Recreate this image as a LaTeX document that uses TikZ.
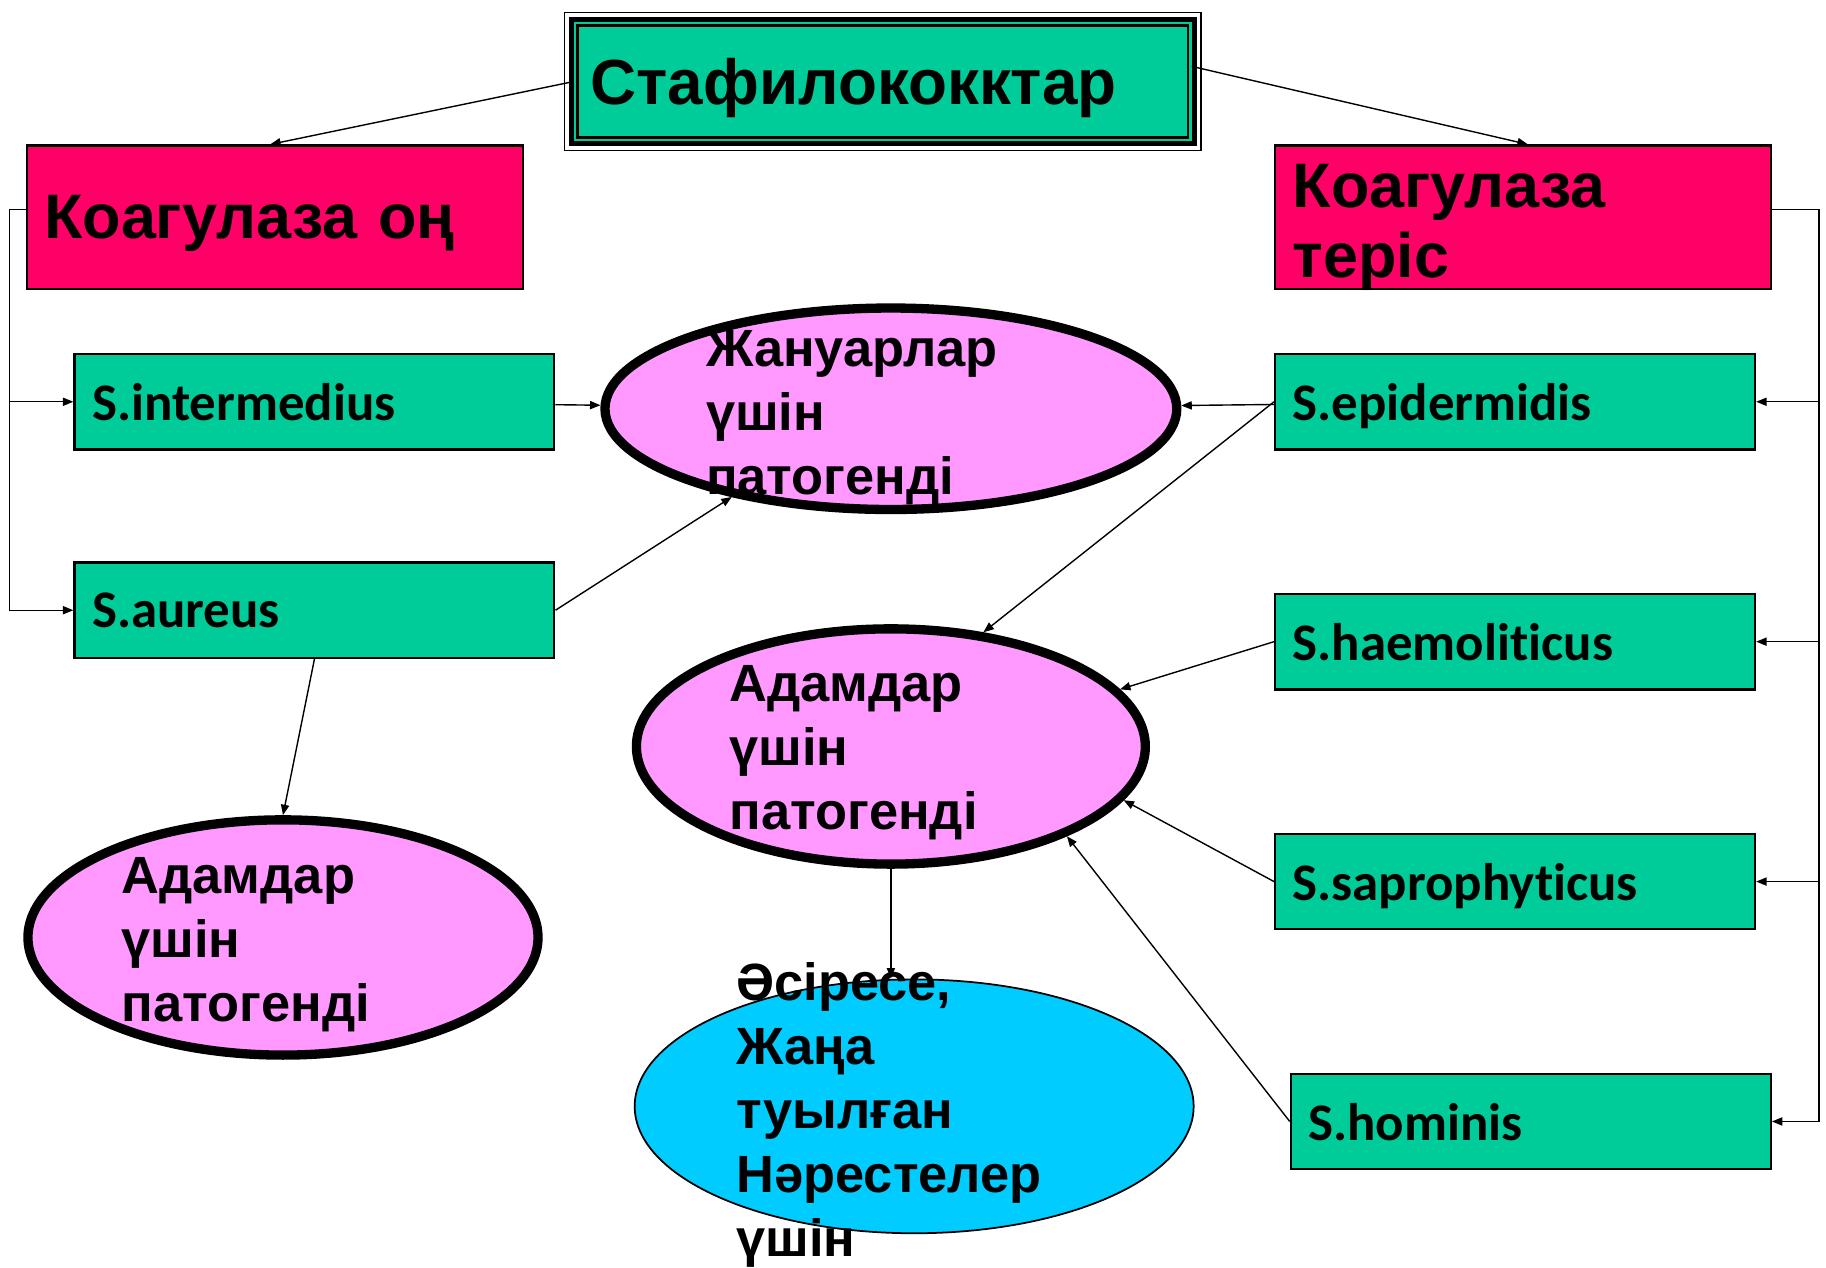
\documentclass[tikz,border=0pt]{standalone}
\usepackage{fontspec}
\setmainfont{Liberation Sans}
\newfontfamily\calibri[Ligatures=NoCommon]{Carlito}
\usetikzlibrary{shapes.geometric,arrows.meta}
\definecolor{sgreen}{HTML}{00CC99}
\definecolor{kred}{HTML}{FF0066}
\definecolor{epink}{HTML}{FF99FF}
\definecolor{eblue}{HTML}{00CCFF}

\begin{document}
\begin{tikzpicture}[x=0.5pt,y=-0.5pt,
    titlebox/.style={fill=sgreen,outer sep=0pt,minimum width=265.4pt,minimum height=51.4pt,
      text width=251pt,inner xsep=7.2pt,inner ysep=3pt,text depth=0pt,align=left,
      font=\fontsize{27.4}{30}\selectfont\bfseries},
    kbox/.style={draw,fill=kred,line width=1pt,minimum height=61.5pt,text width=198pt,
      inner xsep=7.5pt,inner ysep=3pt,align=left,
      font=\fontsize{27}{30}\selectfont\bfseries},
    sbox/.style={draw,fill=sgreen,line width=1pt,minimum height=41pt,text width=191pt,
      inner xsep=7.5pt,inner ysep=3pt,text depth=0pt,align=left,
      font=\fontsize{22.7}{27}\selectfont\calibri\bfseries},
    oval/.style={ellipse,draw,fill=epink,line width=4pt,inner sep=0pt},
    lbl/.style={anchor=north west,inner sep=0pt,align=left,
      font=\fontsize{22.5}{27.5}\selectfont\bfseries},
    arr/.style={-{Triangle[length=4.5pt,width=3.5pt]},line width=0.6pt}]
  \useasboundingbox (0,0) rectangle (1568,1088);

  % Title
  \node[titlebox] (title) at (758,70) {Стафилококктар};
  \draw[line width=1pt] ([shift={(1.6pt,-1.6pt)}]title.north west) rectangle ([shift={(-1.6pt,1.6pt)}]title.south east);
  \draw[line width=2.15pt] ([shift={(-1.1pt,1.1pt)}]title.north west) rectangle ([shift={(1.1pt,-1.1pt)}]title.south east);
  \draw[line width=0.75pt] ([shift={(-3.9pt,3.9pt)}]title.north west) rectangle ([shift={(3.9pt,-3.9pt)}]title.south east);

  % Boxes
  \node[kbox,text depth=0pt] (kpos) at (236,186.5) {Коагулаза оң};
  \node[kbox,text height=19.3pt,text depth=27.2pt] (kneg) at (1308,186.5) {Коагулаза\\теріс};
  \node[sbox] (sint) at (270,345) {S.intermedius};
  \node[sbox] (saur) at (270,524) {S.aureus};
  \node[sbox] (sepi) at (1301,345) {S.epidermidis};
  \node[sbox] (shae) at (1301,551) {S.haemoliticus};
  \node[sbox] (ssap) at (1301,757) {S.saprophyticus};
  \node[sbox] (shom) at (1314.5,963) {S.hominis};

  % Ellipses
  \node[oval,minimum width=245.5pt,minimum height=86.5pt] (animal) at (765,351) {};
  \node[oval,minimum width=218.5pt,minimum height=101pt] (human) at (765,641) {};
  \node[oval,minimum width=219pt,minimum height=101pt] (human2) at (243,805) {};
  \node[ellipse,draw,fill=eblue,line width=0.75pt,inner sep=0pt,
    minimum width=240pt,minimum height=109pt] (infant) at (785,950) {};

  % Arrows
  \begin{scope}[arr]
    \draw (title.west) -- ([xshift=-2pt]kpos.north);
    \draw ([yshift=6.5pt]title.east) -- ([xshift=2pt]kneg.north);
    \draw ([yshift=3.25pt]kpos.west) -- ++(-14,0) |- (sint.west);
    \draw ([yshift=3.25pt]kpos.west) -- ++(-14,0) |- (saur.west);
    \draw ([yshift=3.25pt]kneg.east) -- ++(40,0) |- (sepi.east);
    \draw ([yshift=3.25pt]kneg.east) -- ++(40,0) |- (shae.east);
    \draw ([yshift=3.25pt]kneg.east) -- ++(40,0) |- (ssap.east);
    \draw ([yshift=3.25pt]kneg.east) -- ++(40,0) |- (shom.east);
    \draw (sint) -- (animal);
    \draw (saur.east) -- (animal.209);
    \draw (saur.south) -- (human2.north);
    \draw (sepi) -- (animal);
    \draw (sepi.west) -- (human.51);
    \draw (shae.west) -- (human.14);
    \draw (ssap.west) -- (human.347);
    \draw (shom.west) -- (human.333);
    \draw (human.south) -- (human.south |- infant.north);
  \end{scope}

  % Texts
  \node[lbl] (tanimal) at (606,283) {Жануарлар\\үшін\\патогенді};
  \node[lbl] (thuman) at (626,571) {Адамдар\\үшін\\патогенді};
  \node[lbl] (thuman2) at (104,736) {Адамдар\\үшін\\патогенді};
  \node[lbl] (tinfant) at (632,826) {Әсіресе,\\Жаңа\\туылған\\Нәрестелер\\үшін};
\end{tikzpicture}
\end{document}
